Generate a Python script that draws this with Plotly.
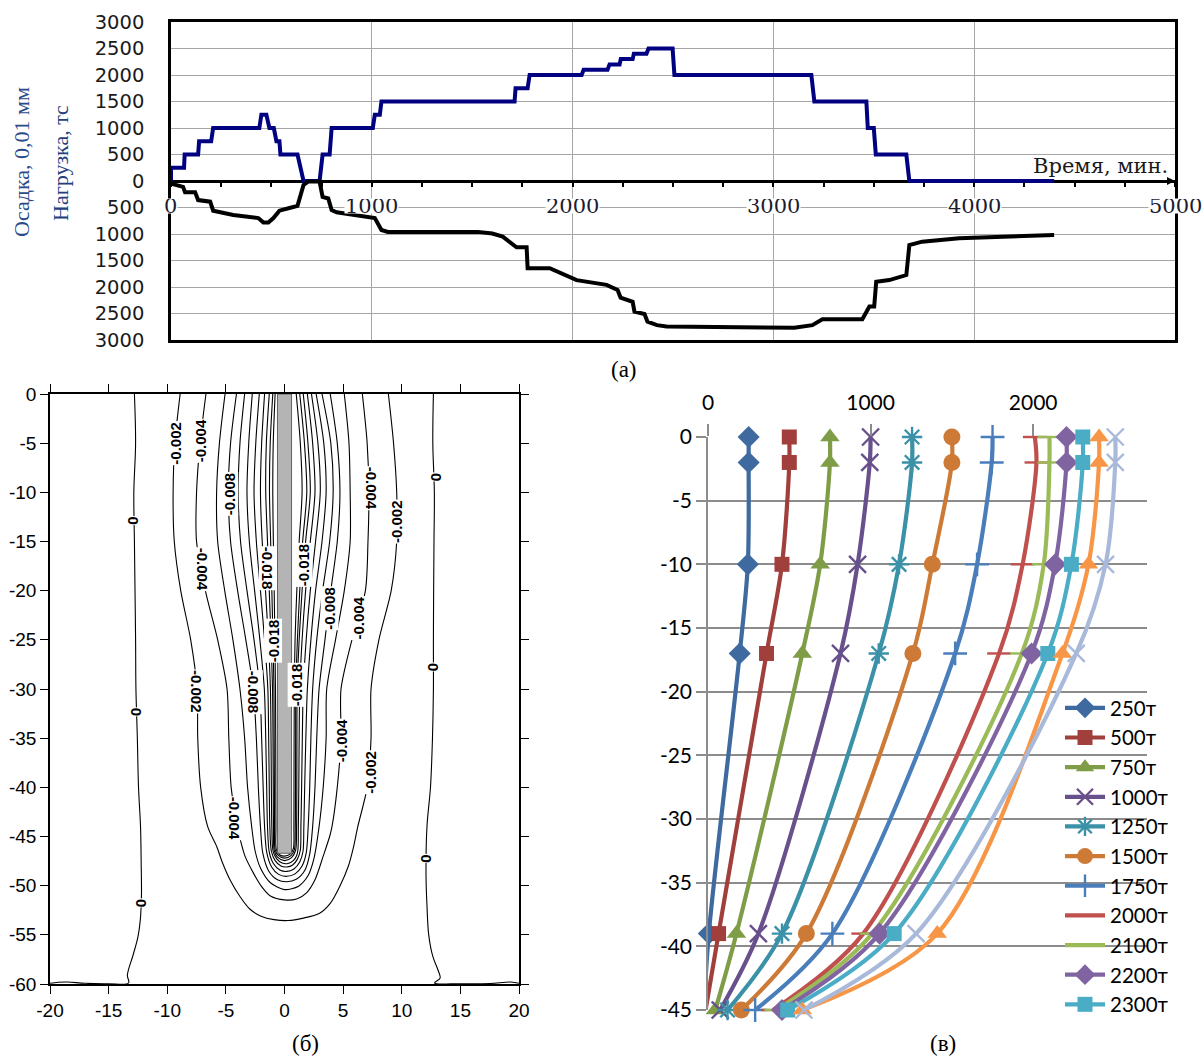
import plotly.graph_objects as go

W, H = 1204, 1057

# ---------------- (а) load / settlement vs time ----------------
LOAD_T = [0, 0, 65, 68, 135, 140, 200, 210, 440, 450, 475, 490, 512, 525, 540, 545, 630, 660, 740, 755,
          790, 800, 1005, 1015, 1040, 1048, 1711, 1716, 1776, 1786, 2045, 2055, 2174, 2184, 2234, 2240,
          2299, 2305, 2368, 2378, 2498, 2507, 3189, 3204, 3463, 3470, 3500, 3510, 3662, 3677, 4398]
LOAD = [0, 250, 250, 500, 500, 750, 750, 1000, 1000, 1250, 1250, 1000, 1000, 750, 750, 500, 500, 0, 0, 500,
        500, 1000, 1000, 1250, 1250, 1500, 1500, 1750, 1750, 2000, 2000, 2100, 2100, 2200, 2200, 2300,
        2300, 2400, 2400, 2500, 2500, 2000, 2000, 1500, 1500, 1000, 1000, 500, 500, 0, 0]

SETTLE_T = [0, 10, 60, 70, 120, 135, 195, 210, 310, 435, 460, 485, 510, 540, 590, 630, 660, 683, 740, 755,
            783, 800, 825, 1015, 1048, 1080, 1529, 1600, 1652, 1721, 1771, 1776, 1886, 1950, 2020, 2169,
            2224, 2239, 2299, 2308, 2358, 2373, 2420, 2468, 2600, 2800, 3000, 3104, 3194, 3244, 3443,
            3453, 3478, 3502, 3512, 3577, 3662, 3677, 3741, 3925, 4398]
SETTLE = [40, 60, 110, 210, 210, 360, 390, 560, 640, 700, 785, 785, 700, 560, 510, 470, 75, 10, 10, 300,
          330, 550, 590, 700, 925, 960, 960, 990, 1050, 1250, 1250, 1645, 1645, 1750, 1870, 1960,
          2055, 2200, 2280, 2465, 2510, 2655, 2720, 2745, 2750, 2755, 2760, 2770, 2720, 2610, 2610,
          2530, 2370, 2370, 1900, 1870, 1775, 1210, 1145, 1080, 1020]

TICKS_A = [0, 1000, 2000, 3000, 4000, 5000]
YTICKS_A = [-3000, -2500, -2000, -1500, -1000, -500, 0, 500, 1000, 1500, 2000, 2500, 3000]

# ---------------- (б) contour field ----------------
DEP = [0, -5, -10, -15, -20, -25, -30, -35, -40, -44]

C0L_X = [-12.8, -12.7, -12.85, -12.8, -12.75, -12.7, -12.67, -12.55, -12.45, -12.28, -12.22, -12.2, -12.3,
         -12.5, -12.9, -13.4, -13.3, -15.0, -17.0, -18.5, -19.3, -20.0]
C0L_Y = [0, -5, -10, -15, -20, -25, -30, -35, -40, -44, -48, -51, -53.5, -55.2, -57, -59.1, -59.9, -59.97,
         -59.93, -59.8, -59.82, -59.93]
C0R_X = [12.7, 12.65, 12.78, 12.75, 12.72, 12.7, 12.7, 12.62, 12.45, 12.15, 12.07, 12.15, 12.3, 12.65, 13.1,
         13.27, 12.8, 15.0, 17.5, 19.3, 20.0]
C0R_Y = [0, -5, -10, -15, -20, -25, -30, -35, -40, -44, -49, -52, -55, -57.2, -58.6, -59.4, -59.9, -59.97,
         -59.95, -59.8, -59.93]

LEVELS = ["-0.002", "-0.004", "-0.006", "-0.008", "-0.010", "-0.012", "-0.014", "-0.016",
          "-0.018", "-0.020", "-0.022"]
CONT_L = {
    "-0.002": [-8.9, -9.35, -9.5, -9.4, -8.85, -8.0, -7.45, -7.4, -7.15, -6.55],
    "-0.004": [-6.7, -7.2, -7.5, -7.5, -6.75, -5.7, -4.9, -4.75, -4.55, -4.05],
    "-0.006": [-5.07, -5.55, -5.79, -5.7, -5.1, -4.4, -3.8, -3.4, -3.15, -2.8],
    "-0.008": [-4.1, -4.6, -4.79, -4.6, -4.0, -3.3, -2.66, -2.4, -2.23, -2.05],
    "-0.010": [-3.4, -3.8, -3.95, -3.75, -3.2, -2.6, -2.1, -1.95, -1.82, -1.7],
    "-0.012": [-2.75, -3.05, -3.2, -3.0, -2.55, -2.1, -1.72, -1.6, -1.52, -1.45],
    "-0.014": [-2.15, -2.45, -2.6, -2.4, -2.05, -1.7, -1.42, -1.35, -1.3, -1.25],
    "-0.016": [-1.7, -1.95, -2.05, -1.9, -1.62, -1.38, -1.2, -1.15, -1.12, -1.08],
    "-0.018": [-1.3, -1.55, -1.6, -1.45, -1.3, -1.15, -1.02, -0.98, -0.96, -0.94],
    "-0.020": [-1.0, -1.22, -1.28, -1.18, -1.08, -0.98, -0.9, -0.88, -0.86, -0.85],
    "-0.022": [-0.8, -0.96, -1.0, -0.95, -0.88, -0.82, -0.77, -0.75, -0.74, -0.73],
}
CONT_R = {
    "-0.002": [8.86, 9.3, 9.57, 9.57, 9.1, 8.05, 7.38, 7.38, 7.05, 6.25],
    "-0.004": [6.64, 7.05, 7.2, 7.12, 6.9, 5.75, 4.82, 4.82, 4.5, 4.05],
    "-0.006": [5.1, 5.5, 5.6, 5.6, 5.1, 4.35, 3.6, 3.55, 3.3, 2.95],
    "-0.008": [3.9, 4.5, 4.73, 4.5, 3.95, 3.45, 2.95, 2.75, 2.6, 2.4],
    "-0.010": [3.2, 3.95, 4.15, 3.85, 3.25, 2.75, 2.4, 2.25, 2.15, 2.02],
    "-0.012": [2.7, 3.35, 3.55, 3.2, 2.65, 2.25, 1.95, 1.82, 1.72, 1.65],
    "-0.014": [2.3, 2.85, 3.05, 2.65, 2.2, 1.85, 1.6, 1.52, 1.46, 1.4],
    "-0.016": [1.95, 2.4, 2.6, 2.2, 1.8, 1.5, 1.3, 1.25, 1.22, 1.18],
    "-0.018": [1.6, 2.0, 2.2, 1.8, 1.5, 1.25, 1.08, 1.06, 1.05, 1.03],
    "-0.020": [1.3, 1.7, 1.9, 1.55, 1.3, 1.1, 0.97, 0.95, 0.94, 0.92],
    "-0.022": [1.0, 1.35, 1.5, 1.25, 1.05, 0.9, 0.84, 0.82, 0.81, 0.8],
}
CONT_BX = {
    "-0.002": [-5.79, -5.28, -4.65, -3.8, -2.94, -2.0, -0.9, 0.3, 1.6, 3.0, 3.9, 4.7, 5.45, 5.9],
    "-0.004": [-3.8, -3.37, -2.66, -1.95, -1.2, 0.0, 1.04, 1.9, 2.6, 3.3, 3.85],
    "-0.006": [-2.5, -2.05, -1.2, 0.0, 1.2, 2.0, 2.5],
    "-0.008": [-1.85, -1.35, -0.6, 0.2, 1.0, 1.75, 2.15],
    "-0.010": [-1.52, -1.1, -0.5, 0.2, 0.9, 1.5, 1.85],
    "-0.012": [-1.3, -0.95, -0.4, 0.2, 0.8, 1.3, 1.58],
    "-0.014": [-1.12, -0.8, -0.3, 0.2, 0.7, 1.1, 1.35],
    "-0.016": [-0.98, -0.68, -0.2, 0.3, 0.75, 1.05, 1.15],
    "-0.018": [-0.88, -0.6, 0.0, 0.6, 0.95],
    "-0.020": [-0.8, -0.5, 0.0, 0.55, 0.85],
    "-0.022": [-0.7, -0.42, 0.0, 0.48, 0.76],
}
CONT_BY = {
    "-0.002": [-46.0, -47.7, -49.4, -51.1, -52.4, -53.1, -53.45, -53.55, -53.3, -52.8, -51.8, -50.1, -48.0, -46.0],
    "-0.004": [-45.2, -47.0, -48.7, -50.1, -51.05, -51.45, -51.35, -50.7, -49.4, -47.0, -45.0],
    "-0.006": [-46.5, -48.2, -49.7, -50.4, -50.05, -49.0, -47.3],
    "-0.008": [-46.7, -48.5, -49.4, -49.6, -49.35, -48.4, -46.8],
    "-0.010": [-46.6, -48.1, -48.85, -49.05, -48.8, -48.0, -46.7],
    "-0.012": [-46.6, -47.75, -48.4, -48.55, -48.3, -47.6, -46.5],
    "-0.014": [-46.5, -47.45, -48.0, -48.1, -47.9, -47.3, -46.4],
    "-0.016": [-46.45, -47.25, -47.7, -47.75, -47.45, -46.9, -46.3],
    "-0.018": [-46.4, -47.1, -47.45, -47.15, -46.4],
    "-0.020": [-46.35, -46.95, -47.2, -46.95, -46.3],
    "-0.022": [-46.3, -46.85, -47.0, -46.8, -46.2],
}
PILE_X = [-0.6, 0.6]
PILE_Y = [0, -46.7]

LAB_TEXT = ["-0.002", "-0.004", "0", "-0.008", "-0.004", "-0.018", "-0.018", "-0.002", "-0.008", "0",
            "-0.004", "0", "0", "-0.004", "-0.002", "-0.018", "-0.008", "-0.004", "0", "-0.018",
            "-0.004", "-0.002", "0"]
LAB_X = [-9.3, -7.2, -12.9, -4.73, -6.92, -1.38, -0.95, -7.55, -2.66, -12.6,
         -4.3, -12.2, 12.98, 7.44, 9.57, 1.6, 3.83, 6.3, 12.7, 1.0,
         4.82, 7.3, 12.13]
LAB_Y = [-5.0, -4.8, -12.9, -10.2, -17.8, -17.7, -25.1, -30.3, -30.3, -32.3,
         -43.1, -51.8, -8.4, -9.6, -12.95, -17.4, -21.8, -22.8, -27.8, -29.6,
         -35.3, -38.5, -47.2]
LAB_ANGLE = [-90, -90, 90, -90, 90, 90, -90, 90, 90, 90,
             90, 90, 90, 90, -90, -90, -90, -90, 90, -90,
             -90, -90, 90]
TICKS_B_X = [-20, -15, -10, -5, 0, 5, 10, 15, 20]
TICKS_B_Y = [0, -5, -10, -15, -20, -25, -30, -35, -40, -45, -50, -55, -60]

# ---------------- (в) profiles along the pile ----------------
DEPTHS = [0, -2, -10, -17, -39, -45]
SERIES = ["250т", "500т", "750т", "1000т", "1250т", "1500т", "1750т", "2000т", "2100т", "2200т",
          "2300т", "2400т", "2500т"]
VALUES = [
    [250, 250, 245, 195, 5, -25],
    [500, 500, 455, 360, 65, -15],
    [750, 750, 690, 580, 175, 45],
    [1000, 995, 920, 815, 310, 75],
    [1255, 1255, 1175, 1050, 455, 120],
    [1500, 1500, 1380, 1260, 605, 205],
    [1750, 1745, 1655, 1520, 765, 290],
    [2010, 2020, 1935, 1790, 955, 400],
    [2100, 2100, 2065, 1930, 1010, 420],
    [2205, 2205, 2135, 1990, 1055, 455],
    [2305, 2305, 2235, 2090, 1145, 490],
    [2405, 2405, 2340, 2180, 1410, 580],
    [2505, 2505, 2445, 2265, 1280, 590],
]
COLORS = ["#3E6AA0", "#A03F3C", "#7E9D46", "#67508B", "#3A91A8", "#CC7A36", "#4A7EBB", "#C0504D",
          "#9BBB59", "#8064A2", "#4BACC6", "#F79646", "#A9B9D9"]
SYMBOLS = ["diamond", "square", "triangle-up", "x-thin-open", "asterisk-open", "circle", "cross-thin-open",
           "line-ew-open", "line-ew-open", "diamond", "square", "triangle-up", "x-thin-open"]
XTICKS_V = [0, 1000, 2000]
YTICKS_V = [0, -5, -10, -15, -20, -25, -30, -35, -40, -45]

SERIF = "Liberation Serif"
WSERIF = "DejaVu Serif"
WSANS = "DejaVu Sans"
SANS = "Liberation Sans"
CAL = "Lato"


def fx(p):
    return p / W


def fy(p):
    return 1 - p / H


fig = go.Figure()

# (а)
fig.add_trace(go.Scatter(x=LOAD_T, y=LOAD, mode="lines", line=dict(color="#000080", width=4),
                         xaxis="x", yaxis="y", showlegend=False, hoverinfo="skip"))
fig.add_trace(go.Scatter(x=SETTLE_T, y=[-v for v in SETTLE], mode="lines",
                         line=dict(color="black", width=4),
                         xaxis="x", yaxis="y", showlegend=False, hoverinfo="skip"))
fig.add_trace(go.Scatter(x=LOAD_T, y=LOAD, mode="lines", line=dict(width=0), opacity=0,
                         xaxis="x2", yaxis="y", showlegend=False, hoverinfo="skip"))

# (б)
fig.add_trace(go.Scatter(x=C0L_X, y=C0L_Y, mode="lines", line=dict(color="black", width=1.1, shape="spline"),
                         xaxis="x3", yaxis="y3", showlegend=False, hoverinfo="skip"))
fig.add_trace(go.Scatter(x=C0R_X, y=C0R_Y, mode="lines", line=dict(color="black", width=1.1, shape="spline"),
                         xaxis="x3", yaxis="y3", showlegend=False, hoverinfo="skip"))
for lev in LEVELS:
    xs = CONT_L[lev] + CONT_BX[lev] + CONT_R[lev][::-1]
    ys = DEP + CONT_BY[lev] + DEP[::-1]
    fig.add_trace(go.Scatter(x=xs, y=ys, mode="lines",
                             line=dict(color="black", width=1.1, shape="spline", smoothing=0.8),
                             xaxis="x3", yaxis="y3", showlegend=False, hoverinfo="skip"))

# (в)
for i, name in enumerate(SERIES):
    c = COLORS[i]
    sym = SYMBOLS[i]
    open_sym = sym.endswith("-open")
    msize = 17
    if sym == "square":
        msize = 15
    marker = dict(symbol=sym, size=msize, color=c,
                  line=dict(width=2.4 if open_sym else 0, color=c))
    fig.add_trace(go.Scatter(x=VALUES[i], y=DEPTHS, name=name, mode="lines+markers",
                             line=dict(color=c, width=4.2, shape="spline", smoothing=0.9),
                             marker=marker, xaxis="x4", yaxis="y4", cliponaxis=False,
                             showlegend=(i < 11), hoverinfo="skip"))

annotations = []
for t in TICKS_A:
    annotations.append(dict(x=t, y=-470, xref="x", yref="y", text=str(t), showarrow=False,
                            bgcolor="white", borderpad=0, height=14,
                            font=dict(family=WSERIF, size=21, color="#1c1c30")))
annotations.append(dict(x=4975, y=290, xref="x", yref="y", text="Время, мин.", showarrow=False,
                        xanchor="right", yanchor="middle", font=dict(family=WSERIF, size=21, color="#1a1a1a")))
annotations.append(dict(x=5000, y=0, ax=4930, ay=0, xref="x", yref="y", axref="x", ayref="y", text="",
                        showarrow=True, arrowhead=2, arrowsize=0.8, arrowwidth=2, arrowcolor="black"))
annotations.append(dict(x=fx(22), y=fy(162), xref="paper", yref="paper", text="Осадка, 0,01 мм",
                        xanchor="center", yanchor="middle",
                        textangle=-90, showarrow=False, font=dict(family=SERIF, size=22, color="#2A4A8C")))
annotations.append(dict(x=fx(60), y=fy(163), xref="paper", yref="paper", text="Нагрузка, тс",
                        xanchor="center", yanchor="middle",
                        textangle=-90, showarrow=False, font=dict(family=SERIF, size=22, color="#24407E")))
for txt, px, py in [("(а)", 624, 369), ("(б)", 305, 1043), ("(в)", 943, 1043)]:
    annotations.append(dict(x=fx(px), y=fy(py), xref="paper", yref="paper", text=txt, showarrow=False,
                            xanchor="center", yanchor="middle",
                            font=dict(family=SERIF, size=23, color="black")))
for txt, lx, ly, ang in zip(LAB_TEXT, LAB_X, LAB_Y, LAB_ANGLE):
    annotations.append(dict(x=lx, y=ly, xref="x3", yref="y3", text="<b>" + txt + "</b>", textangle=ang,
                            showarrow=False, bgcolor="white", borderpad=0,
                            font=dict(family=SANS, size=15, color="black")))

shapes = [dict(type="rect", xref="x3", yref="y3", x0=PILE_X[0], x1=PILE_X[1], y0=PILE_Y[1], y1=PILE_Y[0],
               fillcolor="#B4B4B4", line=dict(color="#606060", width=1), layer="above")]

fig.update_layout(
    width=W, height=H, margin=dict(l=0, r=0, t=0, b=0, pad=0, autoexpand=False),
    paper_bgcolor="white", plot_bgcolor="white",
    showlegend=True,
    legend=dict(x=fx(1060), y=fy(688), xanchor="left", yanchor="top", bgcolor="rgba(0,0,0,0)",
                font=dict(family=CAL, size=20.5, color="black"), tracegroupgap=0, itemwidth=40),
    annotations=annotations, shapes=shapes,
    xaxis=dict(domain=[fx(171), fx(1175)], range=[0, 5000], anchor="y", dtick=1000, tick0=0,
               showgrid=True, gridcolor="#A6A6A6", gridwidth=1.3, showticklabels=False, ticks="",
               showline=True, mirror=True, linecolor="black", linewidth=2.5, zeroline=False),
    xaxis2=dict(overlaying="x", anchor="free", position=fy(181), range=[0, 5000], dtick=250, tick0=0,
                ticks="outside", ticklen=5, tickwidth=2, tickcolor="black", showticklabels=False,
                showgrid=False, showline=False, zeroline=False),
    yaxis=dict(domain=[fy(340), fy(22)], range=[-3000, 3000], anchor="x", tickvals=YTICKS_A,
               ticktext=[str(abs(v)) for v in YTICKS_A], showgrid=True, gridcolor="#A6A6A6", gridwidth=1.3,
               showline=True, mirror=True, linecolor="black", linewidth=2.5, zeroline=True,
               zerolinecolor="black", zerolinewidth=2.5, ticks="", ticklabelstandoff=20,
               tickfont=dict(family=WSANS, size=19.5, color="#1a1a1a")),
    xaxis3=dict(domain=[fx(50), fx(519)], range=[-20, 20], anchor="y3", tickvals=TICKS_B_X,
                ticktext=[str(v) for v in TICKS_B_X],
                ticks="outside", ticklen=8, tickcolor="black", tickwidth=1.3, mirror="ticks",
                showline=True, linecolor="black", linewidth=1.5, showgrid=False, zeroline=False,
                tickfont=dict(family=SANS, size=19, color="black")),
    yaxis3=dict(domain=[fy(984), fy(394)], range=[-60, 0], anchor="x3", tickvals=TICKS_B_Y,
                ticktext=[str(v) for v in TICKS_B_Y],
                ticks="outside", ticklen=8, tickcolor="black", tickwidth=1.3, mirror="ticks",
                showline=True, linecolor="black", linewidth=1.5, showgrid=False, zeroline=False,
                tickfont=dict(family=SANS, size=19, color="black")),
    xaxis4=dict(domain=[fx(708), fx(1147)], range=[0, 2700], anchor="y4", side="top", tickvals=XTICKS_V,
                ticks="outside", ticklen=12, tickcolor="#8C8C8C", tickwidth=1.5, showgrid=False,
                showline=False, zeroline=False, ticklabelstandoff=6,
                tickfont=dict(family=CAL, size=21, color="black")),
    yaxis4=dict(domain=[fy(1010), fy(437)], range=[-45, 0], anchor="x4", tickvals=YTICKS_V,
                ticktext=[str(v) for v in YTICKS_V],
                showgrid=True, gridcolor="#8C8C8C", gridwidth=1.5, ticks="outside", ticklen=10,
                tickcolor="#8C8C8C", tickwidth=1.5, showline=True, linecolor="#8C8C8C", linewidth=1.5,
                zeroline=False, tickfont=dict(family=CAL, size=21, color="black")),
)

fig.write_html("out.html")
